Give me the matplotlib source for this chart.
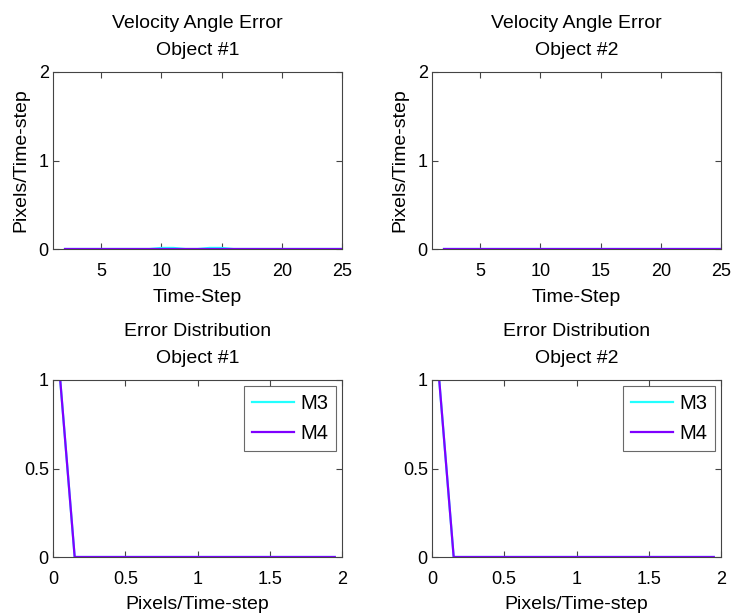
import matplotlib.pyplot as plt
import numpy as np

plt.rcParams['font.family'] = ['Liberation Sans', 'DejaVu Sans']
plt.rcParams['font.size'] = 14

# per-step velocity angle error for each object
steps = np.arange(2, 26)
m3_obj1 = [0, 0, 0, 0, 0, 0, 0, 0, 0.012, 0.012, 0, 0, 0.012, 0.012,
           0, 0, 0, 0, 0, 0, 0, 0, 0, 0]
m4_obj1 = [0] * 24
m3_obj2 = [0] * 24
m4_obj2 = [0] * 24

# error distribution (bin centres and fraction)
bins = np.arange(0.05, 2.0, 0.1)
dist_m3 = [1] + [0] * 19
dist_m4 = [1] + [0] * 19

c3 = '#22ffff'
c4 = '#7f00ff'

fig = plt.figure(figsize=(7.34, 6.16), dpi=100)
L = [53 / 734, 432 / 734]
W = 289 / 734
B = [1 - 249 / 616, 1 - 557 / 616]
H = 177 / 616


def style(ax):
    ax.tick_params(direction='in', top=True, right=True, length=4,
                   color='#444444', labelsize=13)
    ax.tick_params(axis='x', pad=10)
    ax.tick_params(axis='y', pad=3)
    for s in ax.spines.values():
        s.set_color('#444444')
        s.set_linewidth(0.8)


for i, (m3, m4) in enumerate([(m3_obj1, m4_obj1), (m3_obj2, m4_obj2)]):
    ax = fig.add_axes([L[i], B[0], W, H])
    ax.plot(steps, m3, color=c3, lw=1.6)
    ax.plot(steps, m4, color=c4, lw=1.6)
    ax.set_xlim(1, 25)
    ax.set_ylim(0, 2)
    ax.set_xticks([5, 10, 15, 20, 25])
    ax.set_yticks([0, 1, 2])
    ax.set_title('Velocity Angle Error\nObject #%d' % (i + 1), pad=12,
                 fontsize=14, linespacing=1.78)
    ax.set_xlabel('Time-Step', labelpad=6.5)
    ax.set_ylabel('Pixels/Time-step', labelpad=7)
    style(ax)

for i in range(2):
    ax = fig.add_axes([L[i], B[1], W, H])
    ax.plot(bins, dist_m3, color=c3, lw=1.6, label='M3')
    ax.plot(bins, dist_m4, color=c4, lw=1.6, label='M4')
    ax.set_xlim(0, 2)
    ax.set_ylim(0, 1)
    ax.set_xticks([0, 0.5, 1, 1.5, 2])
    ax.set_xticklabels(['0', '0.5', '1', '1.5', '2'])
    ax.set_yticks([0, 0.5, 1])
    ax.set_yticklabels(['0', '0.5', '1'])
    ax.set_title('Error Distribution\nObject #%d' % (i + 1), pad=12,
                 fontsize=14, linespacing=1.78)
    ax.set_xlabel('Pixels/Time-step', labelpad=5.5)
    leg = ax.legend(loc='upper right', fancybox=False, edgecolor='#444444',
                    fontsize=14.5, handlelength=2.1, borderpad=0.4,
                    labelspacing=0.55, handletextpad=0.3,
                    borderaxespad=0.3)
    leg.get_frame().set_linewidth(0.8)
    style(ax)

fig.savefig('out.png', dpi=100)
